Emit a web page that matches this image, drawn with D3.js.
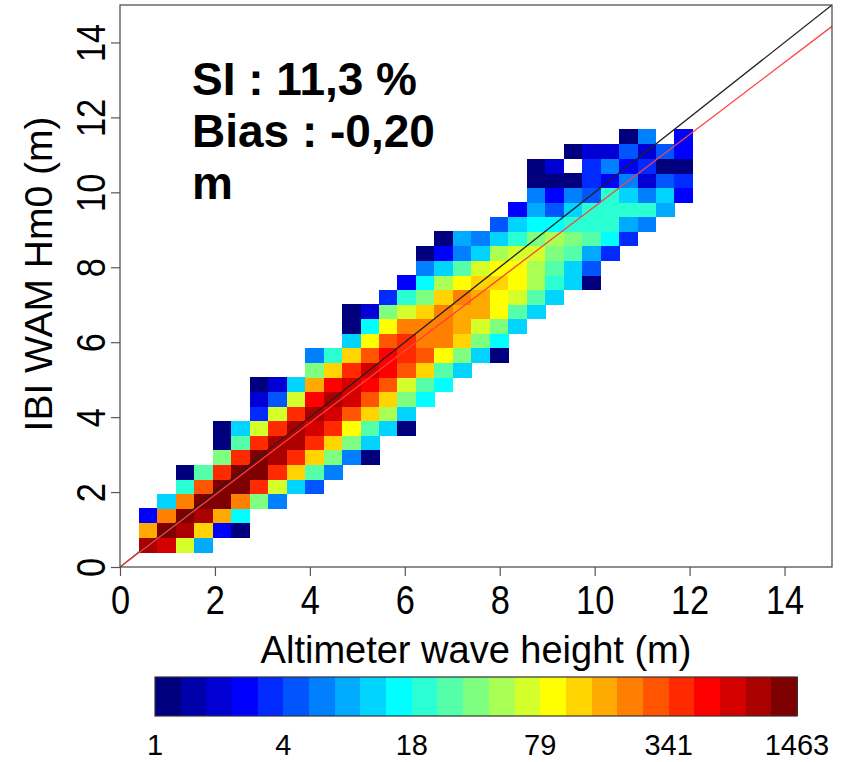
<!DOCTYPE html>
<html lang="en">
<meta charset="utf-8">
<style>
body { margin: 0; background: #fff; }
svg text { font-family: "Liberation Sans", Arial, sans-serif; fill: #000; }
.cells rect { shape-rendering: crispEdges; }
.axis line { stroke: #555; stroke-width: 1.2px; }
</style>
<script type="text/javascript" src="https://cdn.jsdelivr.net/npm/d3@7/dist/d3.min.js"></script>
<body>
<script type="text/javascript">

// Page size
var width = 848,
    height = 762;

// Binning of the 2D histogram (metres)
var binStart = 0.4,
    binWidth = 0.389;

// First column (1-based) of each row, rows go from bottom (row 1) to top
var firstBin = [1, 1, 1, 2, 3, 3, 5, 5, 5, 7, 7, 7, 10, 10, 12, 12, 12, 14, 15, 16, 16, 17, 20, 21, 22, 22, 22, 24, 27];

// Number of matchups in every cell of each row (0 = empty cell)
var binCounts = [
  [930, 690, 70, 9],
  [160, 1180, 940, 118, 3, 1],
  [3, 215, 1320, 905, 165, 16],
  [12, 220, 1463, 1290, 205, 38, 7],
  [21, 295, 1390, 1240, 395, 66, 12, 5],
  [1, 27, 380, 1200, 1150, 372, 118, 29, 7],
  [37, 410, 1110, 960, 385, 125, 36, 6, 1],
  [1, 29, 372, 890, 845, 380, 128, 39, 12],
  [1, 11, 70, 360, 880, 720, 405, 95, 27, 13, 1],
  [4, 72, 395, 910, 705, 300, 115, 50, 12],
  [2, 5, 66, 540, 870, 680, 285, 124, 40, 17],
  [1, 2, 11, 170, 560, 665, 505, 280, 64, 28, 15],
  [36, 130, 360, 690, 520, 300, 122, 30, 11],
  [7, 22, 118, 270, 470, 410, 275, 88, 38, 12, 1],
  [12, 92, 310, 360, 230, 200, 112, 36, 15],
  [1, 16, 86, 210, 235, 196, 150, 70, 35, 11],
  [1, 2, 40, 62, 110, 215, 190, 170, 96, 26, 12],
  [4, 20, 34, 128, 198, 172, 85, 65, 30, 13],
  [3, 17, 47, 100, 130, 112, 82, 55, 22, 11, 1],
  [6, 12, 30, 60, 90, 86, 52, 26, 12, 5],
  [1, 3, 7, 13, 48, 64, 72, 42, 27, 9, 4],
  [1, 9, 7, 12, 20, 36, 49, 39, 28, 15, 4],
  [5, 12, 15, 17, 21, 20, 23, 9, 7],
  [3, 9, 5, 13, 19, 22, 21, 20, 8],
  [6, 3, 7, 5, 19, 11, 6, 12, 3],
  [1, 1, 1, 4, 3, 7, 2, 5, 4],
  [1, 2, 0, 4, 6, 3, 4, 1, 1],
  [1, 2, 2, 5, 2, 5, 3],
  [1, 6, 0, 3]
];

// Axis ticks and colour bar labels
var axisTicks = [0, 2, 4, 6, 8, 10, 12, 14];
var colorbarLabels = ["1", "4", "18", "79", "341", "1463"];
var maxCount = 1463;
var nLevels = 25;

// Statistics written in the plot
var statLines = ["SI : 11,3 %", "Bias : -0,20", "m"];

// Fitted line (slope of the red line)
var fitSlope = 0.962;

var svg = d3.select("body")
  .append("svg")
  .attr("width", width)
  .attr("height", height);

// Plot area
var x = d3.scaleLinear().domain([0, 15]).range([120, 832]);
var y = d3.scaleLinear().domain([0, 15]).range([567, 5]);

// Jet colour palette with 25 levels on a log scale
var jet = ["#00007F", "#0000FF", "#007FFF", "#00FFFF", "#7FFF7F", "#FFFF00", "#FF7F00", "#FF0000", "#7F0000"];
var palette = d3.quantize(d3.piecewise(d3.interpolateRgb, jet), nLevels);
var color = d3.scaleQuantize().domain([0, Math.log10(maxCount)]).range(palette);

// Flatten the rows into cells
var cells = [];
binCounts.forEach(function(row, r) {
  row.forEach(function(n, i) {
    if (n > 0) cells.push({ col: firstBin[r] + i, row: r + 1, n: n });
  });
});

svg.append("defs").append("clipPath").attr("id", "plotclip")
  .append("rect")
  .attr("x", x(0)).attr("y", y(15))
  .attr("width", x(15) - x(0)).attr("height", y(0) - y(15));

svg.append("g")
    .attr("class", "cells")
  .selectAll("rect")
  .data(cells)
  .enter().append("rect")
    .attr("x", function(d) { return x(binStart + (d.col - 1) * binWidth); })
    .attr("y", function(d) { return y(binStart + d.row * binWidth); })
    .attr("width", x(binWidth) - x(0) + 0.5)
    .attr("height", y(0) - y(binWidth) + 0.5)
    .attr("fill", function(d) { return color(Math.log10(d.n)); });

// 1:1 line and fitted line
var lines = svg.append("g").attr("clip-path", "url(#plotclip)");
lines.append("line")
  .attr("x1", x(0)).attr("y1", y(0))
  .attr("x2", x(15)).attr("y2", y(15))
  .attr("stroke", "#222").attr("stroke-width", 1.3);
lines.append("line")
  .attr("x1", x(0)).attr("y1", y(0))
  .attr("x2", x(15)).attr("y2", y(15 * fitSlope))
  .attr("stroke", "#ff4040").attr("stroke-width", 1.3);

// Box round the plot
svg.append("rect")
  .attr("x", x(0)).attr("y", y(15))
  .attr("width", x(15) - x(0)).attr("height", y(0) - y(15))
  .attr("fill", "none").attr("stroke", "#444").attr("stroke-width", 1.2);

// X axis
var xAxis = svg.append("g")
    .attr("class", "axis")
    .attr("transform", "translate(0," + y(0) + ")")
    .call(d3.axisBottom(x).tickValues(axisTicks).tickSize(9).tickSizeOuter(0));
xAxis.select(".domain").remove();
xAxis.selectAll("text")
    .attr("y", 0).attr("dy", 0)
    .attr("font-size", 40)
    .attr("transform", "translate(0,47) scale(0.86,1)");

// Y axis, labels turned like the axis
var yAxis = svg.append("g")
    .attr("class", "axis")
    .attr("transform", "translate(" + x(0) + ",0)")
    .call(d3.axisLeft(y).tickValues(axisTicks).tickSize(9).tickSizeOuter(0));
yAxis.select(".domain").remove();
yAxis.selectAll("text")
    .attr("x", 0).attr("dy", 0)
    .attr("text-anchor", "middle")
    .attr("font-size", 40)
    .attr("transform", "translate(-15,0) rotate(-90) scale(0.86,1)");

// Axis titles
svg.append("text")
  .attr("x", 476).attr("y", 663)
  .attr("text-anchor", "middle")
  .attr("font-size", 38)
  .text("Altimeter wave height (m)");

svg.append("text")
  .attr("transform", "translate(52,274) rotate(-90)")
  .attr("text-anchor", "middle")
  .attr("font-size", 39)
  .text("IBI WAM Hm0 (m)");

// Statistics
svg.append("g").selectAll("text")
  .data(statLines)
  .enter().append("text")
    .attr("x", 192)
    .attr("y", function(d, i) { return 95 + i * 52; })
    .attr("font-size", 46)
    .attr("font-weight", "bold")
    .text(function(d) { return d; });

// Colour bar
var cb = d3.scaleLinear().domain([0, nLevels]).range([155, 797]);
var cbar = svg.append("g");
cbar.selectAll("rect")
  .data(palette)
  .enter().append("rect")
    .attr("x", function(d, i) { return cb(i); })
    .attr("y", 677)
    .attr("width", cb(1) - cb(0) + 0.5)
    .attr("height", 39)
    .attr("fill", function(d) { return d; })
    .attr("shape-rendering", "crispEdges");
cbar.append("rect")
  .attr("x", cb(0)).attr("y", 677)
  .attr("width", cb(nLevels) - cb(0)).attr("height", 39)
  .attr("fill", "none").attr("stroke", "#333").attr("stroke-width", 1.2);
cbar.selectAll("text")
  .data(colorbarLabels)
  .enter().append("text")
    .attr("x", function(d, i) { return cb(i * 5); })
    .attr("y", 755)
    .attr("text-anchor", "middle")
    .attr("font-size", 29)
    .text(function(d) { return d; });

</script>
</body>
</html>
